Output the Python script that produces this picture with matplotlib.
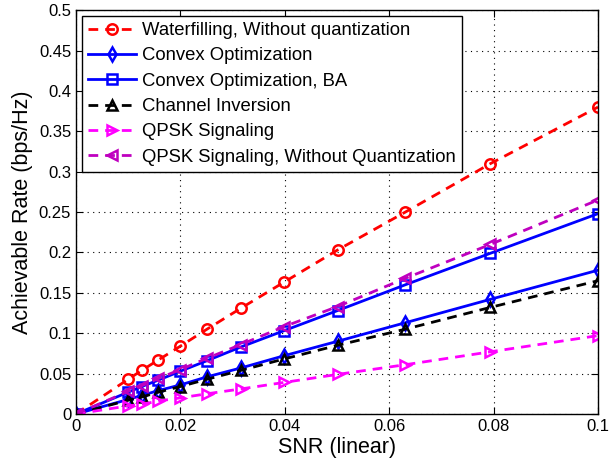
import matplotlib
matplotlib.use("Agg")
import matplotlib.pyplot as plt

plt.rcParams['font.family'] = ['Liberation Sans', 'DejaVu Sans']

snr = [0, 0.01, 0.0126, 0.0158, 0.02, 0.0251, 0.0316, 0.0398, 0.0501, 0.0631, 0.0794, 0.1]

waterfilling = [0, 0.043, 0.054, 0.067, 0.084, 0.105, 0.131, 0.163, 0.203, 0.250, 0.310, 0.380]
convex_opt = [0, 0.018, 0.023, 0.029, 0.036, 0.046, 0.057, 0.072, 0.090, 0.113, 0.142, 0.178]
convex_opt_ba = [0, 0.027, 0.034, 0.042, 0.053, 0.066, 0.083, 0.103, 0.128, 0.160, 0.199, 0.248]
channel_inv = [0, 0.017, 0.021, 0.027, 0.034, 0.043, 0.054, 0.068, 0.085, 0.105, 0.132, 0.165]
qpsk = [0, 0.010, 0.012, 0.016, 0.020, 0.025, 0.031, 0.039, 0.049, 0.061, 0.077, 0.097]
qpsk_noq = [0, 0.028, 0.035, 0.044, 0.055, 0.069, 0.086, 0.108, 0.133, 0.168, 0.210, 0.265]

series = [
    (waterfilling, 'Waterfilling, Without quantization', '#ff0000', '--', 'o'),
    (convex_opt, 'Convex Optimization', '#0000ff', '-', 'd'),
    (convex_opt_ba, 'Convex Optimization, BA', '#0000ff', '-', 's'),
    (channel_inv, 'Channel Inversion', '#000000', '--', '^'),
    (qpsk, 'QPSK Signaling', '#ff00ff', '--', '>'),
    (qpsk_noq, 'QPSK Signaling, Without Quantization', '#bf00bf', '--', '<'),
]

fig = plt.figure(figsize=(6.13, 4.61), dpi=100)
ax = fig.add_axes([0.124, 0.102, 0.8515, 0.876])

for vals, lab, col, ls, mk in series:
    line, = ax.plot(snr, vals, color=col, linestyle=ls, marker=mk, lw=2,
                    markersize=7.5, markerfacecolor='none', markeredgewidth=1.8,
                    label=lab)
    if ls == '--':
        line.set_dashes((3.5, 2.5))

ax.set_xlim(0, 0.1)
ax.set_ylim(0, 0.5)
ax.set_xticks([0, 0.02, 0.04, 0.06, 0.08, 0.1])
ax.set_xticklabels(['0', '0.02', '0.04', '0.06', '0.08', '0.1'])
ax.set_yticks([i * 0.05 for i in range(11)])
ax.set_yticklabels(['0', '0.05', '0.1', '0.15', '0.2', '0.25', '0.3', '0.35', '0.4', '0.45', '0.5'])
ax.tick_params(direction='in', top=True, right=True, labelsize=12, length=5)
ax.grid(True, linestyle=(0, (1, 4)), color='black', linewidth=0.8)
for sp in ax.spines.values():
    sp.set_linewidth(1)

ax.set_xlabel('SNR (linear)', fontsize=15.5, labelpad=2)
ax.set_ylabel('Achievable Rate (bps/Hz)', fontsize=15.5, labelpad=4)

leg = ax.legend(loc='upper left', fontsize=13.3, fancybox=False, edgecolor='black',
                framealpha=1, borderaxespad=0.3, handlelength=2.6, labelspacing=0.45,
                borderpad=0.35, handletextpad=0.3)
leg.get_frame().set_linewidth(1)

fig.savefig('out.png', dpi=100)
